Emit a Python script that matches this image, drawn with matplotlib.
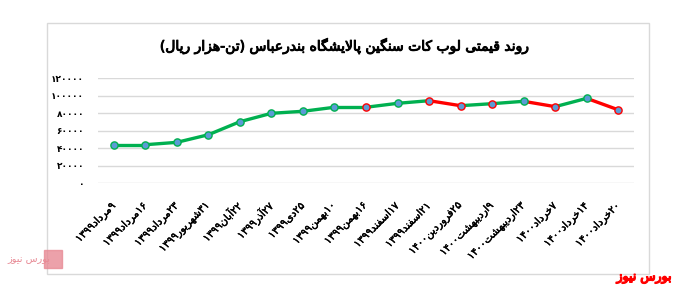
import matplotlib
matplotlib.use("Agg")
import matplotlib.pyplot as plt
import matplotlib.patheffects as pe
from matplotlib.patches import Rectangle
from matplotlib.ticker import FuncFormatter

# chart data
years = ["1399", "1399", "1399", "1399", "1399", "1399", "1399", "1399", "1399",
         "1399", "1399", "1400", "1400", "1400", "1400", "1400", "1400"]
days = ["9", "16", "23", "31", "22", "27", "25", "10", "16",
        "17", "21", "25", "9", "23", "7", "14", "20"]
months = ["مرداد", "مرداد", "مرداد", "شهریور", "آبان", "آذر", "دی", "بهمن", "بهمن",
          "اسفند", "اسفند", "فروردین", "اردیبهشت", "اردیبهشت", "خرداد", "خرداد", "خرداد"]
prices = [44100, 44100, 46800, 55500, 70400, 80000, 82300, 86900, 86900,
          91400, 94400, 88700, 91000, 93700, 87600, 97100, 84000]
y_ticks = [0, 20000, 40000, 60000, 80000, 100000, 120000]

title = "روند قیمتی لوب کات سنگین پالایشگاه بندرعباس (تن-هزار ریال)"
brand = "بورس نیوز"

GREEN = "#00B050"
RED = "#FF0000"
FACE = "#5B9BD5"
edge_cols = [GREEN] * 8 + [RED, GREEN, RED, RED, RED, GREEN, RED, GREEN, RED]

# --- tiny arabic/persian shaper (matplotlib has no text shaping) ---
FORMS = {
    "ا": (0xFE8D, 0xFE8E), "آ": (0xFE81, 0xFE82),
    "د": (0xFEA9, 0xFEAA), "ذ": (0xFEAB, 0xFEAC),
    "ر": (0xFEAD, 0xFEAE), "ز": (0xFEAF, 0xFEB0),
    "ژ": (0xFB8A, 0xFB8B), "و": (0xFEED, 0xFEEE),
    "ب": (0xFE8F, 0xFE90, 0xFE91, 0xFE92), "پ": (0xFB56, 0xFB57, 0xFB58, 0xFB59),
    "ت": (0xFE95, 0xFE96, 0xFE97, 0xFE98), "ث": (0xFE99, 0xFE9A, 0xFE9B, 0xFE9C),
    "ج": (0xFE9D, 0xFE9E, 0xFE9F, 0xFEA0), "چ": (0xFB7A, 0xFB7B, 0xFB7C, 0xFB7D),
    "ح": (0xFEA1, 0xFEA2, 0xFEA3, 0xFEA4), "خ": (0xFEA5, 0xFEA6, 0xFEA7, 0xFEA8),
    "س": (0xFEB1, 0xFEB2, 0xFEB3, 0xFEB4), "ش": (0xFEB5, 0xFEB6, 0xFEB7, 0xFEB8),
    "ص": (0xFEB9, 0xFEBA, 0xFEBB, 0xFEBC), "ض": (0xFEBD, 0xFEBE, 0xFEBF, 0xFEC0),
    "ط": (0xFEC1, 0xFEC2, 0xFEC3, 0xFEC4), "ظ": (0xFEC5, 0xFEC6, 0xFEC7, 0xFEC8),
    "ع": (0xFEC9, 0xFECA, 0xFECB, 0xFECC), "غ": (0xFECD, 0xFECE, 0xFECF, 0xFED0),
    "ف": (0xFED1, 0xFED2, 0xFED3, 0xFED4), "ق": (0xFED5, 0xFED6, 0xFED7, 0xFED8),
    "ک": (0xFB8E, 0xFB8F, 0xFB90, 0xFB91), "گ": (0xFB92, 0xFB93, 0xFB94, 0xFB95),
    "ل": (0xFEDD, 0xFEDE, 0xFEDF, 0xFEE0), "م": (0xFEE1, 0xFEE2, 0xFEE3, 0xFEE4),
    "ن": (0xFEE5, 0xFEE6, 0xFEE7, 0xFEE8), "ه": (0xFEE9, 0xFEEA, 0xFEEB, 0xFEEC),
    "ی": (0xFBFC, 0xFBFD, 0xFBFE, 0xFBFF),
}
FA_DIGITS = str.maketrans("0123456789", "۰۱۲۳۴۵۶۷۸۹")


def dual(c):
    return c in FORMS and len(FORMS[c]) == 4


def shape(text):
    """Returns the presentation forms of text, still in logical order."""
    out = []
    i = 0
    while i < len(text):
        c = text[i]
        if c not in FORMS:
            out.append(c)
            i += 1
            continue
        prev_joins = i > 0 and dual(text[i - 1])
        if c == "ل" and i + 1 < len(text) and text[i + 1] == "ا":
            out.append(chr(0xFEFC if prev_joins else 0xFEFB))
            i += 2
            continue
        next_joins = dual(c) and i + 1 < len(text) and text[i + 1] in FORMS
        f = FORMS[c]
        if prev_joins and next_joins:
            out.append(chr(f[3]))
        elif prev_joins:
            out.append(chr(f[1]))
        elif next_joins:
            out.append(chr(f[2]))
        else:
            out.append(chr(f[0]))
        i += 1
    return "".join(out)


def rtl(text):
    vis = shape(text)[::-1]
    return vis.translate(str.maketrans("()", ")("))


def fake_bold(color, w=0.7):
    # the bold DejaVu face lacks some arabic forms, so thicken the regular one
    return [pe.withStroke(linewidth=w, foreground=color)]


labels = [y.translate(FA_DIGITS) + rtl(m) + d.translate(FA_DIGITS)
          for d, m, y in zip(days, months, years)]

plt.rcParams["font.family"] = ["DejaVu Sans"]

fig = plt.figure(figsize=(6.78, 2.88), dpi=100)
ax = fig.add_axes([98 / 678, 1 - 183.3 / 288, 536 / 678, 105 / 288])

x = list(range(len(prices)))
for i in range(len(prices) - 1):
    col = RED if prices[i + 1] < prices[i] else GREEN
    ax.plot(x[i:i + 2], prices[i:i + 2], color=col, lw=2.4,
            solid_capstyle="round", zorder=2)
for i in x:
    ax.plot(i, prices[i], "o", ms=5.2, mfc=FACE, mec=edge_cols[i], mew=1.0, zorder=3)

ax.set_xlim(-0.5, len(prices) - 0.5)
ax.set_ylim(0, 120000)
ax.set_yticks(y_ticks)
ax.yaxis.set_major_formatter(FuncFormatter(lambda v, p: str(int(v)).translate(FA_DIGITS)))
ax.grid(axis="y", color="#D9D9D9", lw=1)
ax.set_axisbelow(True)
for s in ax.spines.values():
    s.set_visible(False)
ax.tick_params(length=0)
ax.tick_params(axis="y", pad=10, labelsize=6.5, labelcolor="#000000")
for t in ax.get_yticklabels():
    t.set_fontweight("bold")

ax.set_xticks(x)
ax.set_xticklabels(labels, rotation=45, ha="right", va="center",
                   rotation_mode="anchor", fontsize=7.5)
for t in ax.get_xticklabels():
    t.set_path_effects(fake_bold("black", 0.3))
ax.tick_params(axis="x", pad=15)

# outer chart border
fig.patches.append(Rectangle((47 / 678, 1 - 274 / 288), 602 / 678, 251 / 288,
                             transform=fig.transFigure, fill=False,
                             edgecolor="#D9D9D9", lw=1))

fig.text(345 / 678, 1 - 46 / 288, rtl(title), ha="center", va="center",
         fontsize=10, path_effects=fake_bold("black"))

# watermark logos
fig.text(644 / 678, 1 - 277 / 288, rtl(brand), ha="center", va="center",
         fontsize=9, color=RED, path_effects=fake_bold(RED, 1.0))
fig.patches.append(Rectangle((44 / 678, 1 - 268 / 288), 18 / 678, 18 / 288,
                             transform=fig.transFigure, color="#E88A95", alpha=0.8))
fig.text(29 / 678, 1 - 259 / 288, rtl(brand), ha="center", va="center",
         fontsize=7, color="#E88A95")

fig.savefig("out.png", dpi=100)
